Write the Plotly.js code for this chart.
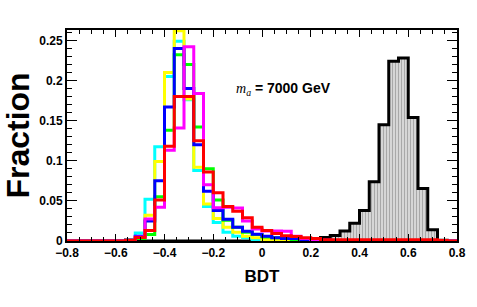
<!DOCTYPE html>
<html>
<head>
<meta charset="utf-8">
<script src="https://cdn.plot.ly/plotly-3.0.1.min.js"></script>
<style>html,body{margin:0;padding:0;background:#fff;}#chart{width:477px;height:307px;}</style>
</head>
<body>
<div id="chart"></div>
<script>
// Binning: 40 bins of width 0.04 from -0.8 to 0.8
var BIN_LO = -0.8, BIN_W = 0.04, N_BINS = 40;

// Bin contents (fraction)
var bkgBlack = [0,0,0,0,0,0,0,0,0,0, 0,0,0,0,0,0,0,0,0,0,
  0.0005,0.001,0.0015,0.002,0.002,0.003,0.0045,0.007,0.0125,0.022,
  0.038,0.074,0.145,0.224,0.228,0.154,0.0655,0.014,0.001,0];
var sigCyan = [0,0,0,0,0,0.0005,0.002,0.010,0.052,0.1175, 0.205,0.249,0.176,0.088,0.043,0.023,0.011,0.006,0.004,0.002,
  0.001,0.001,0.0005,0,0,0,0,0,0,0, 0,0,0,0,0,0,0,0,0,0];
var sigYellow = [0,0,0,0,0,0,0.001,0.005,0.032,0.099, 0.21,0.262,0.177,0.092,0.046,0.028,0.017,0.011,0.006,0.004,
  0.002,0.001,0.001,0,0,0,0,0,0,0, 0,0,0,0,0,0,0,0,0,0];
var sigGreen = [0,0,0,0,0,0,0.001,0.003,0.008,0.055, 0.138,0.232,0.22,0.142,0.09,0.051,0.026,0.017,0.011,0.008,
  0.005,0.004,0.003,0.002,0.001,0,0,0,0,0, 0,0,0,0,0,0,0,0,0,0];
var sigBlue = [0,0,0,0,0,0,0.001,0.006,0.025,0.075, 0.167,0.240,0.19,0.12,0.062,0.038,0.027,0.017,0.012,0.0085,
  0.006,0.004,0.003,0.003,0.002,0.001,0.001,0,0,0, 0,0,0,0,0,0,0,0,0,0];
var sigMagenta = [0,0,0,0,0,0,0.001,0.005,0.0275,0.042, 0.113,0.141,0.242,0.184,0.07,0.0415,0.042,0.041,0.025,0.015,
  0.0125,0.0125,0.012,0.006,0.003,0.002,0.001,0,0,0, 0,0,0,0,0,0,0,0,0,0];
var sigRed = [0,0,0,0,0,0,0.001,0.0045,0.013,0.051, 0.118,0.18,0.18,0.125,0.086,0.06,0.043,0.037,0.029,0.017,
  0.013,0.0095,0.0065,0.0055,0.004,0.003,0.0015,0.0015,0.0015,0.0015, 0.0015,0.0015,0.0015,0.0015,0.0015,0.0015,0.0015,0.0015,0.0005,0];

var xTickVals = [-0.8,-0.6,-0.4,-0.2,0,0.2,0.4,0.6,0.8];
var yTickVals = [0,0.05,0.1,0.15,0.2,0.25];
var yTickText = ["0","0.05","0.1","0.15","0.2","0.25"];
var xTickText = ["\u22120.8","\u22120.6","\u22120.4","\u22120.2","0","0.2","0.4","0.6","0.8"];

var edges = [];
for (var i = 0; i <= N_BINS; i++) edges.push(+(BIN_LO + i * BIN_W).toFixed(4));

function stepTrace(vals, color, width, fill) {
  var y = vals.slice(); y.push(vals[vals.length - 1]);
  var t = {x: edges, y: y, type: 'scatter', mode: 'lines',
    line: {shape: 'hv', color: color, width: width}, hoverinfo: 'skip', showlegend: false};
  if (fill) {
    t.fill = 'tozeroy';
    t.fillcolor = '#d0d0d0';
    t.fillpattern = {shape: '|', fgcolor: '#a8a8a8', bgcolor: '#e6e6e6', size: 3, solidity: 0.5};
  }
  return t;
}

var traces = [
  stepTrace(bkgBlack, '#000000', 3, true),
  stepTrace(sigCyan, '#00ffff', 3),
  stepTrace(sigYellow, '#ffff00', 3),
  stepTrace(sigGreen, '#00ff00', 3),
  stepTrace(sigBlue, '#0000ff', 3),
  stepTrace(sigMagenta, '#ff00ff', 3),
  stepTrace(sigRed, '#ff0000', 3)
];

var F = 'Liberation Sans, Arial, sans-serif';
var layout = {
  width: 477, height: 307,
  margin: {l: 67, r: 20, t: 30, b: 66},
  paper_bgcolor: '#fff', plot_bgcolor: '#fff',
  showlegend: false,
  font: {family: F, color: '#000'},
  xaxis: {
    range: [-0.8, 0.8], tickvals: xTickVals, ticktext: xTickText,
    ticks: 'inside', ticklen: 7, tickwidth: 1, tickcolor: '#000',
    minor: {ticks: 'inside', ticklen: 4, dtick: 0.05, tickcolor: '#000', tickwidth: 1},
    showline: true, linecolor: '#000', linewidth: 2, mirror: 'ticks',
    showgrid: false, zeroline: false,
    tickfont: {family: F, size: 12, weight: 'bold', color: '#000'},
    title: {text: '<b>BDT</b>', font: {family: F, size: 17, color: '#000'}, standoff: 11},
    automargin: false
  },
  yaxis: {
    range: [0, 0.263], tickvals: yTickVals, ticktext: yTickText,
    ticks: 'inside', ticklen: 10, tickwidth: 1, tickcolor: '#000',
    minor: {ticks: 'inside', ticklen: 5, dtick: 0.01, tickcolor: '#000', tickwidth: 1},
    showline: true, linecolor: '#000', linewidth: 2, mirror: 'ticks',
    showgrid: false, zeroline: false,
    tickfont: {family: F, size: 12, weight: 'bold', color: '#000'},
    title: {text: '<b>Fraction</b>', font: {family: F, size: 32, color: '#000'}, standoff: 4},
    automargin: false
  },
  annotations: [{
    xref: 'x', yref: 'y', x: -0.115, y: 0.19, xanchor: 'left', yanchor: 'middle', showarrow: false,
    text: '<span style="font-family:Liberation Serif"><i>m</i><sub><i>a</i></sub></span><b> = 7000 GeV</b>',
    font: {family: F, size: 14, color: '#000'}
  }]
};

Plotly.newPlot('chart', traces, layout, {staticPlot: true, displayModeBar: false});
</script>
</body>
</html>
